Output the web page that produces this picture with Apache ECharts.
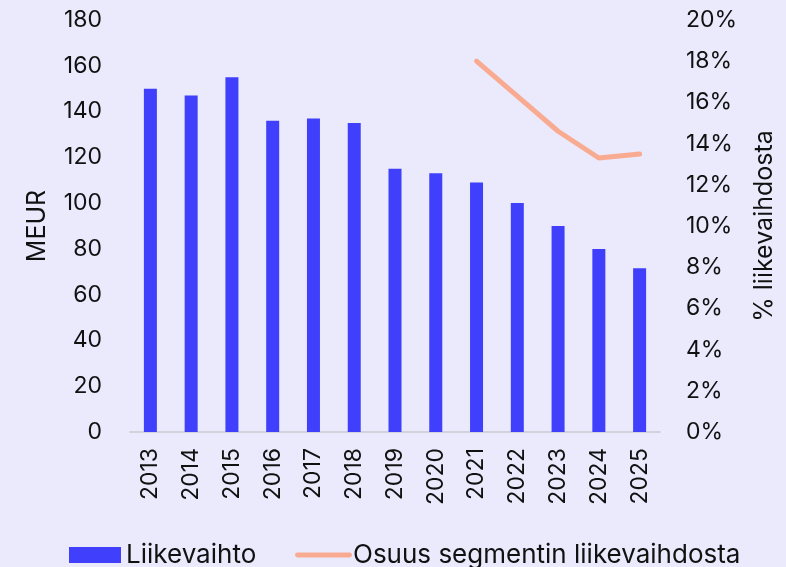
<!DOCTYPE html>
<html>
<head>
<meta charset="utf-8">
<script src="https://cdn.jsdelivr.net/npm/echarts@6/dist/echarts.min.js"></script>
<style>
  html, body { margin: 0; padding: 0; background: #ebe9fc; }
  #chart { width: 786px; height: 567px; }
</style>
</head>
<body>
<div id="chart"></div>
<script>
// data
var years = ['2013', '2014', '2015', '2016', '2017', '2018', '2019', '2020', '2021', '2022', '2023', '2024', '2025'];
var liikevaihto = [150, 147, 155, 136, 137, 135, 115, 113, 109, 100, 90, 80, 71.5];
var osuus = [null, null, null, null, null, null, null, null, 18.0, 16.3, 14.6, 13.3, 13.5];

var font = 'Inter';
var barColor = '#3f3ffc';
var lineColor = '#f9ab91';
var chart = echarts.init(document.getElementById('chart'));
var option = {
    backgroundColor: '#ebe9fc',
    animation: false,
    textStyle: { fontFamily: font },
    grid: {
        left: 130,
        right: 126,
        top: 20,
        bottom: 135
    },
    // two legends so each item sits where it is in the picture
    legend: [{
        top: 542,
        left: 69,
        padding: 0,
        itemWidth: 52,
        itemHeight: 16,
        textStyle: { fontFamily: font, fontSize: 26, color: '#111' },
        data: [{ name: 'Liikevaihto', icon: 'rect' }]
    }, {
        top: 542,
        left: 295,
        padding: 0,
        itemWidth: 57,
        itemHeight: 20,
        textStyle: { fontFamily: font, fontSize: 26, color: '#111', padding: [0, 0, 0, -4] },
        data: [{
            name: 'Osuus segmentin liikevaihdosta',
            icon: 'path://M0,0 M57,20 M2,7.5 L55,7.5 A2.5,2.5 0 0 1 55,12.5 L2,12.5 A2.5,2.5 0 0 1 2,7.5 Z'
        }]
    }],
    xAxis: {
        type: 'category',
        data: years,
        axisLine: { lineStyle: { color: '#d3d2dc', width: 2 } },
        axisTick: { show: false },
        axisLabel: {
            rotate: 90,
            margin: 16,
            fontSize: 23,
            color: '#111',
            fontFamily: font
        }
    },
    yAxis: [{
        type: 'value',
        min: 0,
        max: 180,
        interval: 20,
        name: 'MEUR',
        nameLocation: 'middle',
        nameGap: 80,
        nameTextStyle: { fontSize: 25, color: '#111', fontFamily: font },
        splitLine: { show: false },
        axisLine: { show: false },
        axisLabel: { fontSize: 23, color: '#111', margin: 28, fontFamily: font }
    }, {
        type: 'value',
        min: 0,
        max: 20,
        interval: 2,
        name: '% liikevaihdosta',
        nameLocation: 'middle',
        nameGap: 92,
        nameTextStyle: { fontSize: 25, color: '#111', fontFamily: font },
        splitLine: { show: false },
        axisLine: { show: false },
        axisLabel: { fontSize: 23, color: '#111', margin: 26, fontFamily: font, formatter: '{value}%' }
    }],
    series: [{
        name: 'Liikevaihto',
        type: 'bar',
        data: liikevaihto,
        barWidth: 13,
        itemStyle: { color: barColor }
    }, {
        name: 'Osuus segmentin liikevaihdosta',
        type: 'line',
        yAxisIndex: 1,
        data: osuus,
        symbol: 'none',
        lineStyle: { color: lineColor, width: 5, cap: 'round' },
        itemStyle: { color: lineColor }
    }]
};
chart.setOption(option);
</script>
</body>
</html>
